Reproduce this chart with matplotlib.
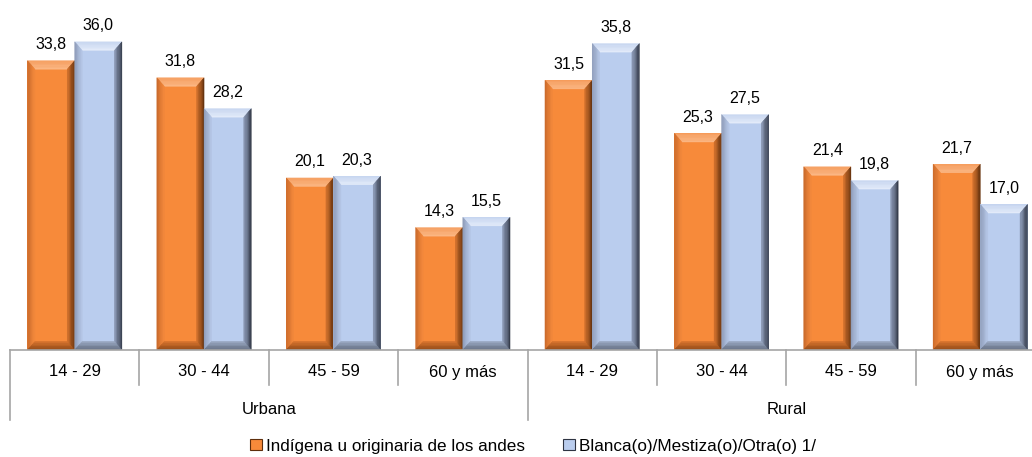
import numpy as np
import matplotlib
matplotlib.use("Agg")
import matplotlib.pyplot as plt
from matplotlib.colors import to_rgb
from matplotlib.patches import Polygon, Patch
from matplotlib.transforms import blended_transform_factory

plt.rcParams["font.family"] = ["Liberation Sans", "DejaVu Sans"]

groups = ["Urbana", "Rural"]
ages = ["14 - 29", "30 - 44", "45 - 59", "60 y más"]
series = ["Indígena u originaria de los andes", "Blanca(o)/Mestiza(o)/Otra(o) 1/"]
indigena = [33.8, 31.8, 20.1, 14.3, 31.5, 25.3, 21.4, 21.7]
blanca = [36.0, 28.2, 20.3, 15.5, 35.8, 27.5, 19.8, 17.0]

# face, (top outer, top inner), (left outer, inner), (right outer, inner), (bottom outer, inner)
orange = dict(face="#F78A3A", top=("#F6A062", "#FBB886"), left=("#C8692A", "#F58A3C"),
              right=("#5E2E0C", "#D5732E"), bottom=("#8A4414", "#D7742E"))
blue = dict(face="#BACDEE", top=("#C8D6F0", "#E4ECFA"), left=("#8C9AB6", "#B6C8E8"),
            right=("#2E3442", "#8E9CB8"), bottom=("#5C6678", "#9AA8C2"))

W, H = 1032, 457
fig = plt.figure(figsize=(W / 100, H / 100), dpi=100)
ax = fig.add_axes([10 / W, 107 / H, 1035 / W, 350 / H])
ymax = 350 / 8.56
ax.set_xlim(-0.5, 7.5)
ax.set_ylim(0, ymax)
for s in ["top", "right", "left"]:
    ax.spines[s].set_visible(False)
ax.spines["bottom"].set_color("#A6A6A6")
ax.spines["bottom"].set_linewidth(1.2)
ax.set_xticks([])
ax.set_yticks([])

bw = 0.365
bx = 0.058   # horizontal bevel (data units)
by = 1.0     # vertical bevel (data units)
NB = 6


def band(o0, o1, i0, i1, c0, c1):
    # split trapezoid outer edge (o0,o1) -> inner edge (i0,i1) into colour bands
    o0, o1, i0, i1 = map(np.array, (o0, o1, i0, i1))
    c0, c1 = np.array(to_rgb(c0)), np.array(to_rgb(c1))
    for k in range(NB):
        t0, t1 = k / NB, (k + 1) / NB
        p = [o0 + (i0 - o0) * t0, o1 + (i1 - o1) * t0,
             o1 + (i1 - o1) * t1, o0 + (i0 - o0) * t1]
        c = c0 + (c1 - c0) * (k + 0.5) / NB
        ax.add_patch(Polygon(p, closed=True, facecolor=c, edgecolor=c, lw=0.3))


def bevel_bar(x0, h, st):
    x1 = x0 + bw
    ax.add_patch(Polygon([(x0, 0), (x1, 0), (x1, h), (x0, h)], closed=True,
                         facecolor=st["face"], edgecolor="none"))
    band((x0, h), (x1, h), (x0 + bx, h - by), (x1 - bx, h - by), *st["top"])
    band((x0, 0), (x0, h), (x0 + bx, by), (x0 + bx, h - by), *st["left"])
    band((x1, 0), (x1, h), (x1 - bx, by), (x1 - bx, h - by), *st["right"])
    band((x0, 0), (x1, 0), (x0 + bx, by), (x1 - bx, by), *st["bottom"])
    ax.text(x0 + bw / 2, h + 1.0, f"{h:.1f}".replace(".", ","),
            ha="center", va="bottom", fontsize=11.5, color="#000000")


for i, (a, b) in enumerate(zip(indigena, blanca)):
    bevel_bar(i - bw, a, orange)
    bevel_bar(i, b, blue)

# multi-level category axis
tr = blended_transform_factory(ax.transData, ax.transAxes)
px = 1 / 350
for i in range(9):
    xb = i - 0.5
    depth = 70 if i % 4 == 0 else 35
    ax.plot([xb, xb], [0, -depth * px], color="#A6A6A6", lw=1.2,
            transform=tr, clip_on=False)
labels = ages * len(groups)
for i, lab in enumerate(labels):
    ax.text(i, -22 * px, lab, transform=tr, ha="center", va="center", fontsize=12)
for g, name in enumerate(groups):
    ax.text(g * 4 + 1.5, -59 * px, name, transform=tr, ha="center", va="center",
            fontsize=12)

handles = [Patch(facecolor=orange["face"], edgecolor=orange["right"][0], lw=0.8),
           Patch(facecolor=blue["face"], edgecolor=blue["right"][0], lw=0.8)]
fig.legend(handles, series, loc="center", bbox_to_anchor=(533 / W, 1 - 446 / H),
           ncol=2, frameon=False, fontsize=12.3, handlelength=0.7, handleheight=0.65,
           handletextpad=0.25, columnspacing=2.2)

fig.savefig("out.png", dpi=100)
